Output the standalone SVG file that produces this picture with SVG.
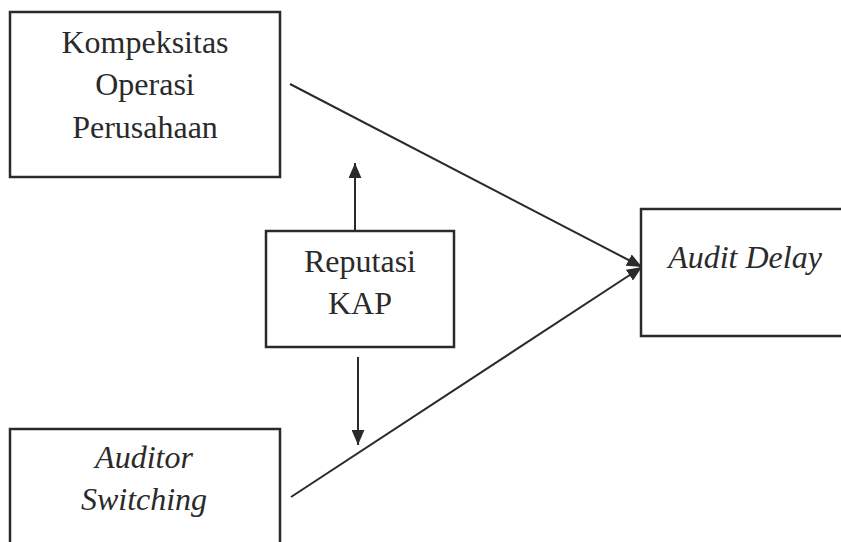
<svg xmlns="http://www.w3.org/2000/svg" width="841" height="542" viewBox="0 0 841 542">
<defs>
<style>
.box{fill:#fff;stroke:#2a2a2a;stroke-width:2.5}
.t{font-family:"Liberation Serif",serif;font-size:32px;fill:#2a2a2a;text-anchor:middle}
.i{font-style:italic}
.c{stroke:#2a2a2a;stroke-width:2;fill:none}
</style>
<marker id="ah2" viewBox="0 0 14 12" refX="14" refY="6" markerWidth="15" markerHeight="13" markerUnits="userSpaceOnUse" orient="auto">
<path d="M0,0 L14,6 L0,12 z" fill="#2a2a2a"/>
</marker>
</defs>
<rect width="841" height="542" fill="#fff"/>
<g id="connectors">
<line class="c" x1="290" y1="84" x2="642" y2="267" marker-end="url(#ah2)"/>
<line class="c" x1="291" y1="497" x2="642" y2="267" marker-end="url(#ah2)"/>
<line class="c" x1="355" y1="231" x2="355" y2="163" marker-end="url(#ah2)"/>
<line class="c" x1="358" y1="357" x2="358" y2="445" marker-end="url(#ah2)"/>
</g>
<g id="kompeksitas">
<rect class="box" x="10" y="12" width="270" height="165"/>
<text class="t" x="145" y="53">Kompeksitas</text>
<text class="t" x="145" y="95">Operasi</text>
<text class="t" x="145" y="138">Perusahaan</text>
</g>
<g id="reputasi">
<rect class="box" x="266" y="231" width="188" height="116"/>
<text class="t" x="360" y="272">Reputasi</text>
<text class="t" x="360" y="314">KAP</text>
</g>
<g id="audit-delay">
<rect class="box" x="641" y="209" width="210" height="127"/>
<text class="t i" x="745" y="268">Audit Delay</text>
</g>
<g id="auditor-switching">
<rect class="box" x="10" y="429" width="270" height="130"/>
<text class="t i" x="144" y="468">Auditor</text>
<text class="t i" x="144" y="510">Switching</text>
</g>
</svg>
